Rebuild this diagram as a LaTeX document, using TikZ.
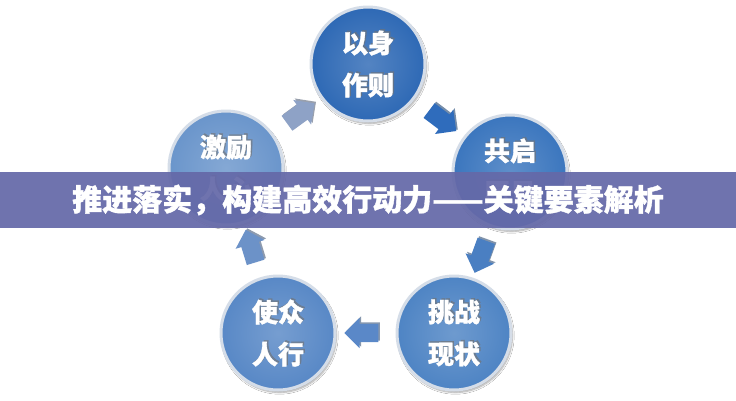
\documentclass[tikz,border=0pt]{standalone}
\usepackage{fontspec}
\newfontfamily\cjk{Noto Sans CJK SC}
\newfontfamily\cjkt{Noto Sans CJK SC}[BoldFeatures={FakeBold=1.2}]
\usetikzlibrary{shapes.arrows,calc,shadows.blur}
\definecolor{cA}{HTML}{2E69B5}
\definecolor{cB}{HTML}{3B76BE}
\definecolor{cC}{HTML}{4E84C4}
\definecolor{cD}{HTML}{5888C6}
\definecolor{cE}{HTML}{6A95CB}
\definecolor{aA}{HTML}{8EA2C6}
\definecolor{aB}{HTML}{2F6CBC}
\definecolor{aC}{HTML}{4A7FC2}
\definecolor{aD}{HTML}{5A88C8}
\definecolor{aE}{HTML}{6C92C8}
\definecolor{bannercol}{HTML}{6569A8}
\definecolor{rimcol}{HTML}{D5DDE8}
\tikzset{
  bubble/.style={circle, minimum size=114pt, inner sep=0pt, draw=rimcol, line width=3pt,
     blur shadow={shadow xshift=1.5pt, shadow yshift=-2.5pt, shadow blur steps=6, shadow opacity=35}},
  bubbletext/.style={font=\cjkt\bfseries\fontsize{26}{42}\selectfont, text=white, align=center, inner sep=0pt},
  bubbleshadow/.style={font=\cjkt\bfseries\fontsize{26}{42}\selectfont, text=black!55, align=center, inner sep=0pt, opacity=0.6},
  blockarrow/.style={single arrow, draw=none, inner sep=9pt, minimum height=34pt,
     single arrow head extend=6pt, single arrow head indent=0pt},
  titletext/.style={font=\cjkt\bfseries\fontsize{30}{36}\selectfont, text=white, inner sep=0pt}
}
\newcommand{\mkbubble}[5]{%
  \node[bubble, inner color=#3!82!white, outer color=#3] (#1) at (#2) {};
  \node[bubbleshadow] at ($(#1)+(1.5pt,1.5pt)$) {#4\\#5};
  \node[bubbletext] at (#1) {#4\\#5};
}
\newcommand{\mkarrow}[5]{%
  \node[blockarrow, fill=#4!60!black, opacity=0.6, rotate=#3] at ($($(#1)!0.5!(#2)$)+(1.5pt,1.5pt)$) {};
  \node[blockarrow, fill=#4, rotate=#3] (#5) at ($(#1)!0.5!(#2)$) {};
}
\begin{document}
\begin{tikzpicture}[x=1pt,y=-1pt]
\useasboundingbox (0,0) rectangle (736,400);
\fill[white] (0,0) rectangle (736,400);
\mkbubble{top}{368,64}{cA}{以身}{作则}
\mkbubble{right}{510,172}{cB}{共启}{愿景}
\mkbubble{lowright}{454,333}{cC}{挑战}{现状}
\mkbubble{lowleft}{278,333}{cD}{使众}{人行}
\mkbubble{left}{226,168}{cE}{激励}{人心}
\mkarrow{left}{top}{36}{aA}{ar1}
\mkarrow{top}{right}{-37}{aB}{ar2}
\mkarrow{right}{lowright}{-110}{aC}{ar3}
\mkarrow{lowright}{lowleft}{180}{aD}{ar4}
\mkarrow{lowleft}{left}{107}{aE}{ar5}
\fill[bannercol, opacity=0.93] (0,172) rectangle (736,228);
\node[titletext] (title) at (368,200) {推进落实，构建高效行动力——关键要素解析};
\end{tikzpicture}
\end{document}
